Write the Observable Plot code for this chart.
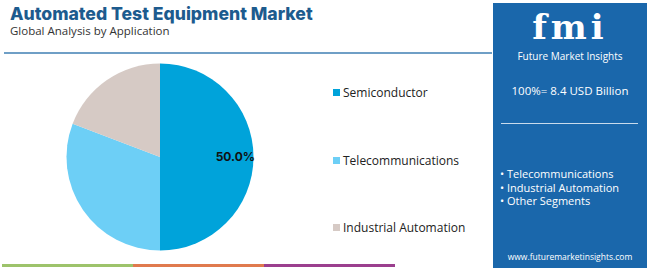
<!DOCTYPE html>
<html>
<head>
<meta charset="utf-8">
<script src="https://cdn.jsdelivr.net/npm/d3@7"></script>
<script src="https://cdn.jsdelivr.net/npm/@observablehq/plot@0.6"></script>
<style>
  html, body { margin: 0; padding: 0; background: #fff; }
  body { width: 650px; height: 268px; position: relative; overflow: hidden; font-family: "Open Sans", "Noto Sans", sans-serif; }
  .abs { position: absolute; }
  #title { left: 10px; top: 3px; font-family: Inter, "Open Sans", sans-serif; font-weight: 800; font-size: 17.6px; color: #1d5b8e; white-space: nowrap; }
  #subtitle { left: 10px; top: 23px; font-size: 11.5px; color: #333; white-space: nowrap; }
  #rule { left: 4px; top: 52px; width: 488px; height: 2px; background: #6f9fc6; }
  #chart { left: 0px; top: 57px; }
  .leg { position: absolute; left: 333px; font-size: 12px; color: #222; white-space: nowrap; display: flex; align-items: center; }
  .leg i { display: inline-block; width: 7px; height: 7px; margin-right: 3px; }
  #panel { left: 493px; top: 3px; width: 154px; height: 265px; background: #1a67ab; color: #fff; }
  #logo { position: absolute; left: 0; width: 154px; top: 4px; height: 40px; text-align: center; font-family: "DejaVu Serif", serif; font-weight: bold; font-size: 34px; letter-spacing: 4px; line-height: 40px; color: #fff; }
  #logosub { position: absolute; left: 0; width: 154px; top: 47px; text-align: center; font-size: 10px; line-height: 12px; }
  #total { position: absolute; left: 0; width: 154px; top: 80px; text-align: center; font-size: 11.5px; }
  #prule { position: absolute; left: 8px; width: 137px; top: 120px; height: 1px; background: #c9dbec; }
  #bullets { position: absolute; left: 7px; top: 164px; font-size: 11px; line-height: 13.5px; }
  #url { position: absolute; left: 0; width: 154px; top: 248px; text-align: center; font-size: 8.5px; }
  .stripe { position: absolute; top: 264px; height: 3px; }
</style>
</head>
<body>
<script>
// ---- data ----
const categories = ["Semiconductor", "Telecommunications", "Industrial Automation"];
const shares = [50.0, 30.8, 19.2];
const colors = ["#00a3da", "#6dcff6", "#d6cac5"];
const labelled = [true, false, false];
const panelSegments = ["Telecommunications", "Industrial Automation", "Other Segments"];
const titleText = "Automated Test Equipment Market";
const subtitleText = "Global Analysis by Application";
const totalText = "100%= 8.4 USD Billion";
const stripeColors = ["#9dc36b", "#e07a4e", "#9b3f8e"];

const data = categories.map((c, i) => ({category: c, value: shares[i], color: colors[i], labelled: labelled[i]}));
const arcs = d3.pie().sort(null).value(d => d.value)(data);
const labelData = arcs.filter(a => a.data.labelled).map(a => {
  const mid = (a.startAngle + a.endAngle) / 2;
  return {x: 0.8 * Math.sin(mid), y: 0.8 * Math.cos(mid), text: a.data.value.toFixed(1) + "%"};
});

function add(el, cls, id, html) {
  const e = document.createElement("div");
  if (cls) e.className = cls;
  if (id) e.id = id;
  if (html !== undefined) e.textContent = html;
  el.appendChild(e);
  return e;
}

add(document.body, "abs", "title", titleText);
add(document.body, "abs", "subtitle", subtitleText);
add(document.body, "abs", "rule");

const pieMark = (index, scales, values, dims, context) => {
  const cx = scales.x(0), cy = scales.y(0);
  const r = scales.x(1) - scales.x(0);
  const g = d3.create("svg:g").attr("transform", `translate(${cx},${cy})`);
  const arc = d3.arc().innerRadius(0).outerRadius(r);
  g.selectAll("path").data(arcs).join("path")
    .attr("d", arc)
    .attr("fill", d => d.data.color);
  return g.node();
};

const chart = Plot.plot({
  width: 320,
  height: 200,
  marginLeft: 66.5, marginRight: 66.5, marginTop: 6.5, marginBottom: 6.5,
  x: {domain: [-1, 1], axis: null},
  y: {domain: [-1, 1], axis: null},
  style: {background: "transparent", overflow: "visible"},
  marks: [
    pieMark,
    Plot.text(labelData, {x: "x", y: "y", text: "text", fontWeight: "bold", fontSize: 12, fill: "#111", fontFamily: "Inter, sans-serif"})
  ]
});
chart.classList.add("abs");
chart.id = "chart";
document.body.appendChild(chart);

const legendTops = [84, 152, 219];
categories.forEach((c, i) => {
  const l = add(document.body, "leg");
  l.style.top = legendTops[i] + "px";
  const sw = document.createElement("i");
  sw.style.background = colors[i];
  l.appendChild(sw);
  l.appendChild(document.createTextNode(c));
});

const panel = add(document.body, "abs", "panel");
add(panel, null, "logo", "fmi");
add(panel, null, "logosub", "Future Market Insights");
add(panel, null, "total", totalText);
add(panel, null, "prule");
const bl = add(panel, null, "bullets");
bl.innerHTML = panelSegments.map(s => "• " + s).join("<br>");
add(panel, null, "url", "www.futuremarketinsights.com");

stripeColors.forEach((c, i) => {
  const s = add(document.body, "stripe");
  s.style.left = (2 + i * 131) + "px";
  s.style.width = "131px";
  s.style.background = c;
});
</script>
</body>
</html>
